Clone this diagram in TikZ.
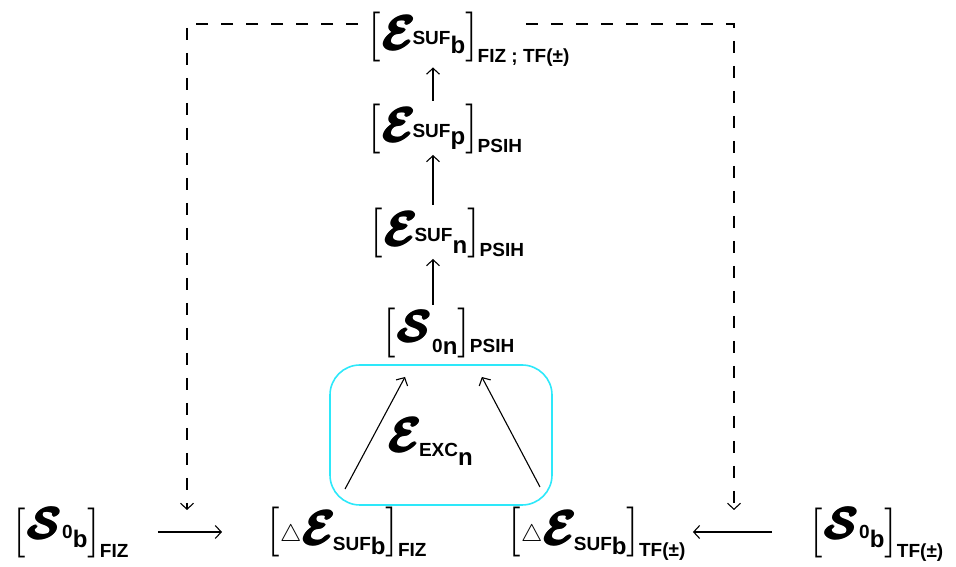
\RequirePackage{fix-cm}
\documentclass[tikz,border=0pt]{standalone}
\usepackage{fontspec}
\usepackage{bm}
\usepackage{tikz}
\usetikzlibrary{calc,arrows.meta}
\newfontfamily\labfont{Liberation Sans}
\definecolor{boxcyan}{RGB}{45,232,250}

% pieces of the labels
\newcommand{\lab}[2]{\mbox{\fontsize{#1}{#1}\selectfont\labfont\bfseries #2}}
\newcommand{\heavy}[1]{\mbox{\rlap{#1}\rlap{\hspace{1.2pt}#1}\rlap{\raisebox{1pt}{\hspace{1.2pt}#1}}\rlap{\raisebox{-1pt}{\hspace{1.2pt}#1}}\hspace{2.4pt}#1}}
\newcommand{\brk}[1]{{\fontsize{50}{50}\selectfont #1}}
\newcommand{\calE}{{\fontsize{48}{48}\selectfont\heavy{$\bm{\mathcal{E}}$}}\hspace{-4pt}}
\newcommand{\calS}{{\fontsize{44}{44}\selectfont\heavy{$\bm{\mathcal{S}}$}}}
\newcommand{\dlt}{{\fontsize{24}{24}\selectfont$\triangle$}}

\begin{document}
\begin{tikzpicture}[x=1pt, y=1pt, >={Straight Barb[length=6pt,width=13pt]},
    line width=1.1pt,
    lbl/.style={anchor=base west, inner sep=0pt},
    dashline/.style={dash pattern=on 12pt off 13pt},
    exbox/.style={draw=boxcyan, line width=1.6pt, rounded corners=30pt,
      minimum width=222pt, minimum height=140pt}]
  \useasboundingbox (0,0) rectangle (956,567);

  \node[lbl] (n1) at (368,517) {\brk{[}\calE\raisebox{5pt}{\lab{19}{SUF}}\raisebox{-4pt}{\lab{24}{b}}\brk{]}\raisebox{-13pt}{\lab{19}{FIZ ; TF(±)}}};
  \node[lbl] (n2) at (368,425) {\brk{[}\calE\raisebox{4pt}{\lab{19}{SUF}}\raisebox{-3pt}{\lab{24}{p}}\brk{]}\raisebox{-11pt}{\lab{19}{PSIH}}};
  \node[lbl] (n3) at (370,321) {\brk{[}\calE\raisebox{4pt}{\lab{19}{SUF}}\raisebox{-8pt}{\lab{24}{n}}\brk{]}\raisebox{-11pt}{\lab{19}{PSIH}}};
  \node[lbl] (n4) at (383,221) {\brk{[}\raisebox{4pt}{\calS}\raisebox{-7pt}{\lab{19}{0}}\raisebox{-9pt}{\lab{24}{n}}\brk{]}\raisebox{-7pt}{\lab{19}{PSIH}}};

  \node[exbox] (box) at (441,132) {};
  \node[lbl] (exc) at (387,115) {\calE\raisebox{-5pt}{\lab{19}{EXC}}\raisebox{-14pt}{\lab{24}{n}}};

  \node[lbl] (sfiz) at (13,21) {\brk{[}\raisebox{7pt}{\calS}\raisebox{7pt}{\lab{19}{0}}\raisebox{-2pt}{\lab{24}{b}}\brk{]}\raisebox{-12pt}{\lab{19}{FIZ}}};
  \node[lbl] (efiz) at (267,22) {\brk{[}\raisebox{3pt}{\dlt}\calE\raisebox{-6pt}{\lab{19}{SUF}}\raisebox{-10pt}{\lab{24}{b}}\brk{]}\raisebox{-12pt}{\lab{19}{FIZ}}};
  \node[lbl] (etf) at (508,22) {\brk{[}\raisebox{3pt}{\dlt}\calE\raisebox{-6pt}{\lab{19}{SUF}}\raisebox{-10pt}{\lab{24}{b}}\brk{]}\raisebox{-12pt}{\lab{19}{TF(±)}}};
  \node[lbl] (stf) at (810,21) {\brk{[}\raisebox{7pt}{\calS}\raisebox{7pt}{\lab{19}{0}}\raisebox{-2pt}{\lab{24}{b}}\brk{]}\raisebox{-12pt}{\lab{19}{TF(±)}}};

  \coordinate (axis) at (433,0);
  \coordinate (tipL) at (187,57);
  \coordinate (tipR) at (734,57);

  \draw[->] let \p1 = (n2.north), \p2 = (n1.south), \p3 = (axis) in (\x3,\y1+3) -- (\x3,\y2);
  \draw[->] let \p1 = (n3.north), \p2 = (n2.south), \p3 = (axis) in (\x3,\y1+3) -- (\x3,\y2);
  \draw[->] let \p1 = (n4.north), \p2 = (n3.south), \p3 = (axis) in (\x3,\y1+3) -- (\x3,\y2);

  \draw[->] ([xshift=-2pt,yshift=18pt]efiz.north) -- ([xshift=22pt,yshift=-18pt]n4.south west);
  \draw[->] ([xshift=32pt,yshift=20pt]etf.north west) -- ([xshift=-33pt,yshift=-18pt]n4.south east);

  \draw[->, shorten <=29pt, shorten >=45pt] (sfiz.east |- 0,35) -- (efiz.west |- 0,35);
  \draw[->, shorten <=38pt, shorten >=7pt] (stf.west |- 0,35) -- (etf.east |- 0,35);

  \draw[dashline, ->, shorten <=10pt] (n1.west |- 0,543) -| (tipL);
  \draw[dashline, ->, shorten <=-44pt] (n1.east |- 0,543) -| (tipR);
\end{tikzpicture}
\end{document}
